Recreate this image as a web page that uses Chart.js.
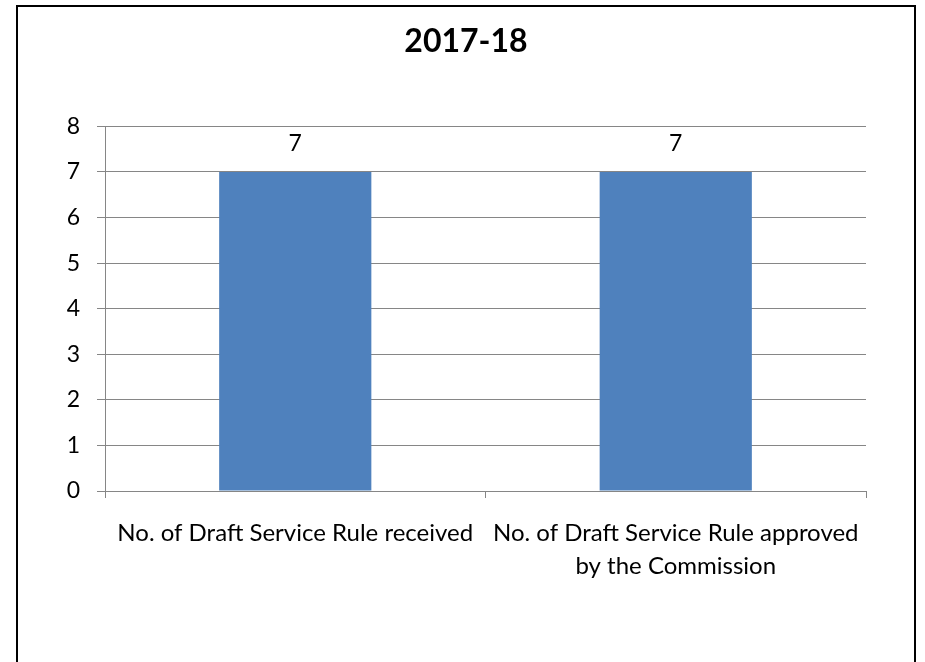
<!DOCTYPE html>
<html>
<head>
<meta charset="utf-8">
<script src="https://cdn.jsdelivr.net/npm/chart.js@4.4.1/dist/chart.umd.min.js"></script>
<style>
  html, body { margin: 0; padding: 0; background: #fff; overflow: hidden; }
  #wrap { position: relative; width: 925px; height: 662px; }
  #frame {
    position: absolute; left: 16px; top: 5px; width: 896px; height: 700px;
    border: 2px solid #000; pointer-events: none;
  }
  canvas { position: absolute; left: 0; top: 0; }
</style>
</head>
<body>
<div id="wrap">
  <canvas id="chart" width="925" height="662"></canvas>
  <div id="frame"></div>
</div>
<script>
const title = "2017-18";
const categories = [
  "No. of Draft Service Rule received",
  ["No. of Draft Service Rule approved", "by the Commission"],
];
const values = [7, 7];
const yTicks = [0, 1, 2, 3, 4, 5, 6, 7, 8];

const gridColor = "#868686";
const textColor = "#000000";
const fontFamily = "Lato, 'Open Sans', sans-serif";

const valueLabels = {
  id: "valueLabels",
  afterDatasetsDraw(chart) {
    const { ctx } = chart;
    const meta = chart.getDatasetMeta(0);
    ctx.save();
    ctx.font = `23px ${fontFamily}`;
    ctx.fillStyle = textColor;
    ctx.textAlign = "center";
    ctx.textBaseline = "middle";
    meta.data.forEach((bar, i) => {
      ctx.fillText(String(values[i]), bar.x, bar.y - 28);
    });
    ctx.restore();
  },
};

new Chart(document.getElementById("chart"), {
  type: "bar",
  data: {
    labels: categories,
    datasets: [
      {
        data: values,
        backgroundColor: "#4F81BD",
        barPercentage: 0.4,
        categoryPercentage: 1,
        yAxisID: "y",
      },
    ],
  },
  options: {
    responsive: false,
    animation: false,
    layout: { padding: { left: 7, right: 0, top: 0, bottom: 0 } },
    plugins: {
      legend: { display: false },
      tooltip: { enabled: false },
      title: {
        display: true,
        text: title,
        color: textColor,
        font: { family: fontFamily, size: 32, weight: "bold", lineHeight: 1.2 },
        padding: { top: 22, bottom: 66 },
      },
    },
    scales: {
      y: {
        min: 0,
        max: 8,
        afterFit: (scale) => { scale.width = 98; },
        afterBuildTicks: (scale) => { scale.ticks = yTicks.map((v) => ({ value: v })); },
        ticks: {
          color: textColor,
          padding: 17,
          font: { family: fontFamily, size: 23 },
        },
        grid: { color: gridColor, lineWidth: 1, tickLength: 8 },
        border: { color: gridColor, width: 1 },
      },
      // empty right-hand space, so the title stays centred on the frame
      yRight: {
        position: "right",
        display: true,
        min: 0,
        max: 8,
        afterFit: (scale) => { scale.width = 59; },
        ticks: { display: false },
        grid: { display: false },
        border: { display: false },
      },
      x: {
        afterFit: (scale) => { scale.height = 171; },
        ticks: {
          color: textColor,
          padding: 19,
          maxRotation: 0,
          autoSkip: false,
          font: { family: fontFamily, size: 24, lineHeight: 1.375 },
        },
        grid: {
          color: gridColor,
          drawOnChartArea: false,
          drawTicks: true,
          tickLength: 7,
          offset: true,
        },
        border: { color: gridColor, width: 1 },
      },
    },
  },
  plugins: [valueLabels],
});
</script>
</body>
</html>
